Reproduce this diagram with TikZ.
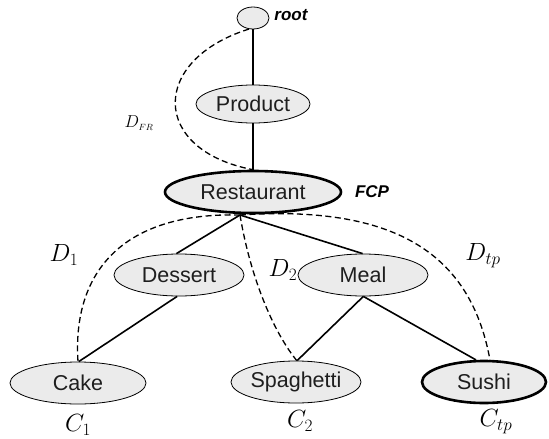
\documentclass[tikz,border=0pt]{standalone}
\usepackage{fontspec}
\setsansfont{Liberation Sans}
\usetikzlibrary{shapes.geometric}
\definecolor{knotfill}{RGB}{235,235,235}
\definecolor{ink}{RGB}{30,30,30}
\tikzset{
  knot/.style={ellipse, draw, fill=knotfill, inner sep=0pt, line width=0.8pt, minimum height=42pt, minimum width=130pt,
    text=ink, font=\sffamily\fontsize{21.5}{25}\selectfont},
  bold knot/.style={knot, line width=2.6pt},
  edge/.style={line width=1.6pt},
  way/.style={line width=1.3pt, dash pattern=on 6pt off 3.5pt},
  lab/.style={font=\fontsize{24}{28}\selectfont},
  tag/.style={font=\sffamily\bfseries\itshape\fontsize{17}{20}\selectfont}
}
\begin{document}
\begin{tikzpicture}[x=1pt, y=-1pt]
\useasboundingbox (0,0) rectangle (549,439);
% Knoten
\node[knot, minimum width=32pt, minimum height=22pt] (root) at (253,18) {};
\node[knot, minimum width=114pt, minimum height=38pt] (product) at (253,104) {Product};
\node[bold knot, minimum width=176pt, minimum height=42pt] (restaurant) at (253,192) {Restaurant};
\node[knot] (dessert) at (179,275) {Dessert};
\node[knot] (meal) at (363,275) {Meal};
\node[knot, minimum width=136pt] (cake) at (78,383) {Cake};
\node[knot] (spaghetti) at (296,382) {Spaghetti};
\node[bold knot, minimum width=124pt] (sushi) at (484,382) {Sushi};
% Beschriftung
\node[tag] (rootlab) at (291,15) {root};
\node[tag] (fcp) at (372,192) {FCP};
\node[font=\fontsize{18}{21}\selectfont] (dfr) at (139,123) {$D_{\scriptscriptstyle FR}$};
\node[lab] (d1) at (64,255) {$D_1$};
\node[lab] (d2) at (283,270) {$D_2$};
\node[lab] (dtp) at (483,256) {$D_{tp}$};
\node[lab] (c1) at (78,425) {$C_1$};
\node[lab] (c2) at (300,421) {$C_2$};
\node[lab] (ctp) at (496,422) {$C_{tp}$};
% Kanten
\draw[edge] (root) -- (product);
\draw[edge] (product) -- (restaurant);
\coordinate (rb) at (240,215);
\draw[edge] (rb) -- (dessert.97);
\draw[edge] (rb) -- (meal.91);
\draw[edge] (dessert.-95) -- (cake.88);
\draw[edge] (meal.-89) -- (spaghetti.87);
\draw[edge] (meal.-89) -- (sushi.110);
% Wege
\draw[way] (root.-110) .. controls (150,60) and (150,150) .. (restaurant.north);
\draw[way] (rb) .. controls (125,212) and (72,270) .. (cake.90);
\draw[way] (rb) .. controls (250,275) and (272,330) .. (spaghetti.88);
\draw[way] (rb) .. controls (390,205) and (470,250) .. (sushi.75);
\end{tikzpicture}
\end{document}
